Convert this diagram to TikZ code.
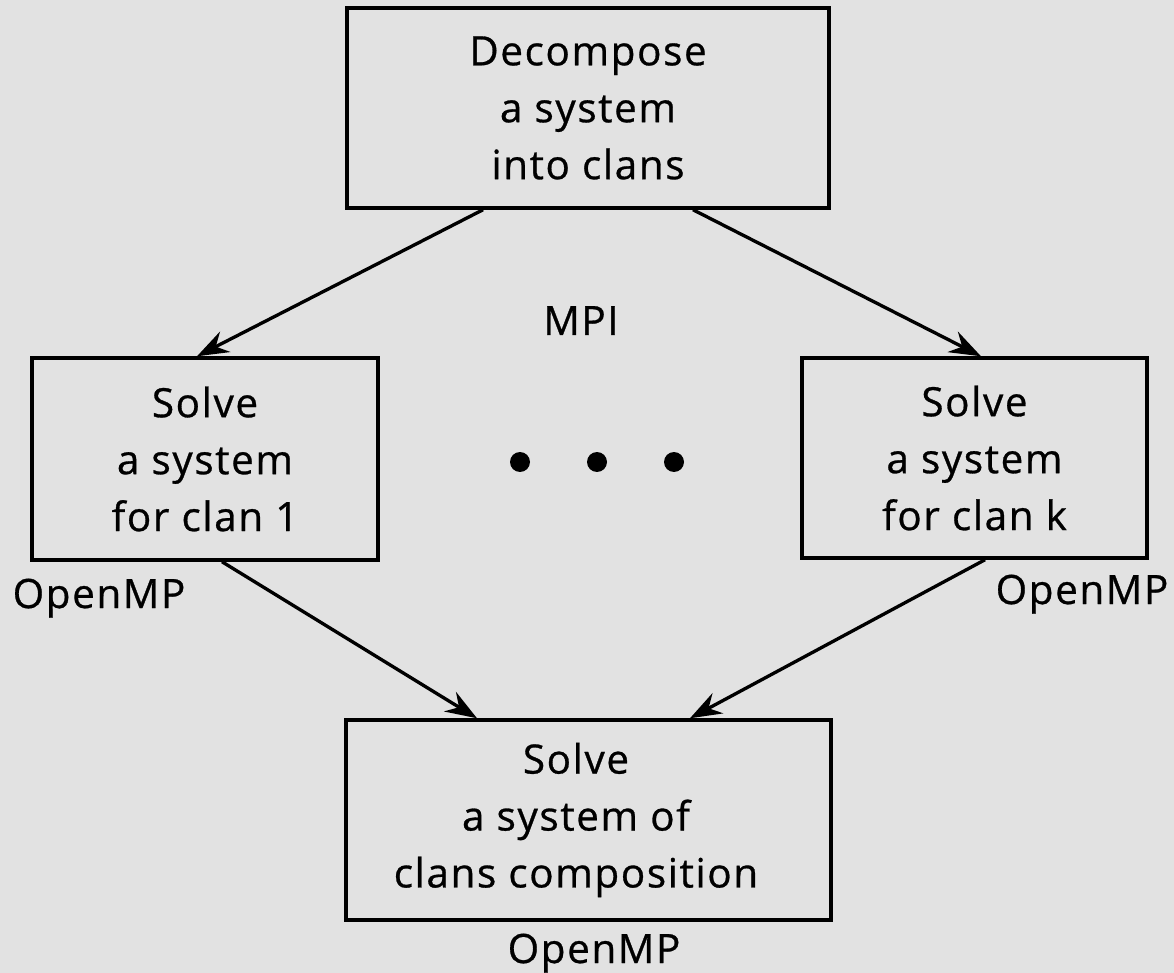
\documentclass[tikz,border=0pt]{standalone}
\usepackage{fontspec}
\setmainfont{Open Sans}[LetterSpace=4,FakeBold=0.7]
\usetikzlibrary{arrows.meta}
\definecolor{bg}{RGB}{226,226,226}
\begin{document}
\begin{tikzpicture}[x=0.02cm,y=-0.02cm,
 box/.style={draw, line width=2pt, align=center, inner sep=0pt, font=\fontsize{23}{32.4}\selectfont},
 lbl/.style={anchor=base, inner sep=0pt, font=\fontsize{23}{26}\selectfont},
 dot/.style={circle, fill, inner sep=0pt, minimum size=0.4cm},
 conn/.style={line width=1.9pt, -{Stealth[length=18pt,width=13pt,inset=6pt]}}]
\fill[bg] (0,0) rectangle (1174,973);
\useasboundingbox (0,0) rectangle (1174,973);
\node[box, minimum width=9.64cm, minimum height=4cm] (top) at (588,108) {Decompose\\a system\\into clans};
\node[box, minimum width=6.92cm, minimum height=4.04cm] (left) at (205,459) {Solve\\a system\\for clan 1};
\node[box, minimum width=6.9cm, minimum height=4cm] (right) at (974.5,458) {Solve\\a system\\for clan k};
\node[box, minimum width=9.7cm, minimum height=4cm] (bot) at (588.5,820) {Solve\kern0.5cm\\a system of\kern0.5cm\\clans composition\kern0.5cm};
\node[lbl] (mpi) at (581,335) {MPI};
\node[lbl] (ompl) at (99,608) {OpenMP};
\node[lbl] (ompr) at (1082,604) {OpenMP};
\node[lbl] (ompb) at (594,963) {OpenMP};
\node[dot] (d1) at (520,462) {};
\node[dot] (d2) at (597,462) {};
\node[dot] (d3) at (674,462) {};
\draw[conn] ([xshift=-2.1cm]top.south) -- ([xshift=-0.16cm]left.north);
\draw[conn] ([xshift=2.1cm]top.south) -- ([xshift=0.13cm]right.north);
\draw[conn] ([xshift=0.34cm]left.south) -- ([xshift=-2.23cm]bot.north);
\draw[conn] ([xshift=0.21cm]right.south) -- ([xshift=2.03cm]bot.north);
\end{tikzpicture}
\end{document}
